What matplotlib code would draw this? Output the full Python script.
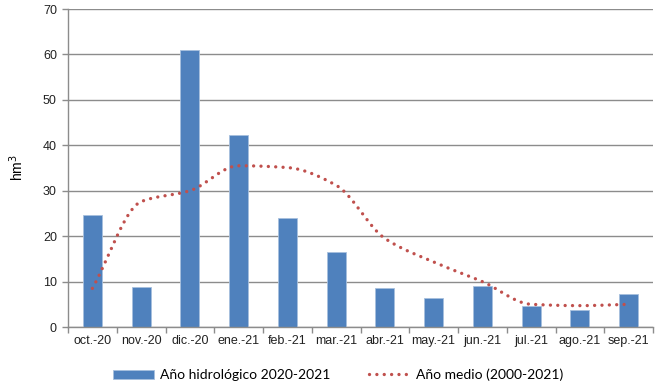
import numpy as np
import matplotlib.pyplot as plt
from matplotlib.ticker import FixedLocator

meses = ["oct.-20", "nov.-20", "dic.-20", "ene.-21", "feb.-21", "mar.-21",
         "abr.-21", "may.-21", "jun.-21", "jul.-21", "ago.-21", "sep.-21"]
hidrologico = [24.7, 8.8, 61.0, 42.2, 24.0, 16.4, 8.5, 6.3, 9.0, 4.6, 3.7, 7.2]
medio = [8.5, 27.6, 30.0, 35.5, 35.1, 31.2, 19.5, 14.3, 10.0, 5.0, 4.7, 5.0]

azul = "#4F81BD"
rojo = "#C0504D"
gris = "#8C8C8C"


def suavizar(x, y, n=40):
    # monotone cubic (Fritsch-Carlson) curve through the points
    x = np.asarray(x, float)
    y = np.asarray(y, float)
    h = np.diff(x)
    d = np.diff(y) / h
    m = np.zeros_like(y)
    m[0], m[-1] = d[0], d[-1]
    for i in range(1, len(y) - 1):
        if d[i - 1] * d[i] > 0:
            m[i] = 2 * d[i - 1] * d[i] / (d[i - 1] + d[i])
    xs, ys = [], []
    t = np.linspace(0, 1, n, endpoint=False)
    for i in range(len(x) - 1):
        h00 = 2 * t**3 - 3 * t**2 + 1
        h10 = t**3 - 2 * t**2 + t
        h01 = -2 * t**3 + 3 * t**2
        h11 = t**3 - t**2
        xs.extend(x[i] + t * h[i])
        ys.extend(h00 * y[i] + h10 * h[i] * m[i] + h01 * y[i + 1] + h11 * h[i] * m[i + 1])
    xs.append(x[-1])
    ys.append(y[-1])
    return np.array(xs), np.array(ys)


plt.rcParams["font.family"] = ["Liberation Sans", "DejaVu Sans"]

fig = plt.figure(figsize=(6.59, 3.9), dpi=100)
ax = fig.add_axes([68 / 659, 1 - 327 / 390, 585 / 659, 318 / 390])

x = np.arange(len(meses))
barras = ax.bar(x, hidrologico, width=0.39, color=azul, edgecolor="#A7C0DE",
                linewidth=0.6, label="Año hidrológico 2020-2021", zorder=2)

sx, sy = suavizar(x, medio)
linea, = ax.plot(sx, sy, color=rojo, linewidth=2.4, linestyle=(0, (0.01, 2.2)),
                 dash_capstyle="round", label="Año medio (2000-2021)", zorder=3)

ax.set_xlim(-0.5, len(meses) - 0.5)
ax.set_ylim(0, 70)
ax.set_yticks(range(0, 71, 10))
ax.yaxis.grid(True, color=gris, linewidth=1.0, zorder=0)
ax.set_axisbelow(True)

ax.set_xticks(x)
ax.set_xticklabels(meses, fontsize=9, color="#222222")
ax.xaxis.set_minor_locator(FixedLocator(np.arange(-0.5, len(meses), 1)))
ax.tick_params(axis="x", which="major", length=0, pad=6)
ax.tick_params(axis="x", which="minor", length=4, color=gris, width=1.0)
ax.tick_params(axis="y", length=4, color=gris, width=1.0, labelsize=9,
               labelcolor="#222222", pad=4)

for side in ["top", "right"]:
    ax.spines[side].set_visible(False)
for side in ["left", "bottom"]:
    ax.spines[side].set_color(gris)
    ax.spines[side].set_linewidth(1.0)

ax.set_ylabel("hm$^3$", fontsize=10, labelpad=12)

fig.legend([barras, linea], ["Año hidrológico 2020-2021", "Año medio (2000-2021)"],
           loc="center", bbox_to_anchor=(338 / 659, 1 - 375 / 390),
           ncol=2, frameon=False, columnspacing=2.8, handlelength=3.0,
           handletextpad=0.4, prop={"family": ["Lato", "DejaVu Sans"], "size": 10})

fig.savefig("out.png", dpi=100)
